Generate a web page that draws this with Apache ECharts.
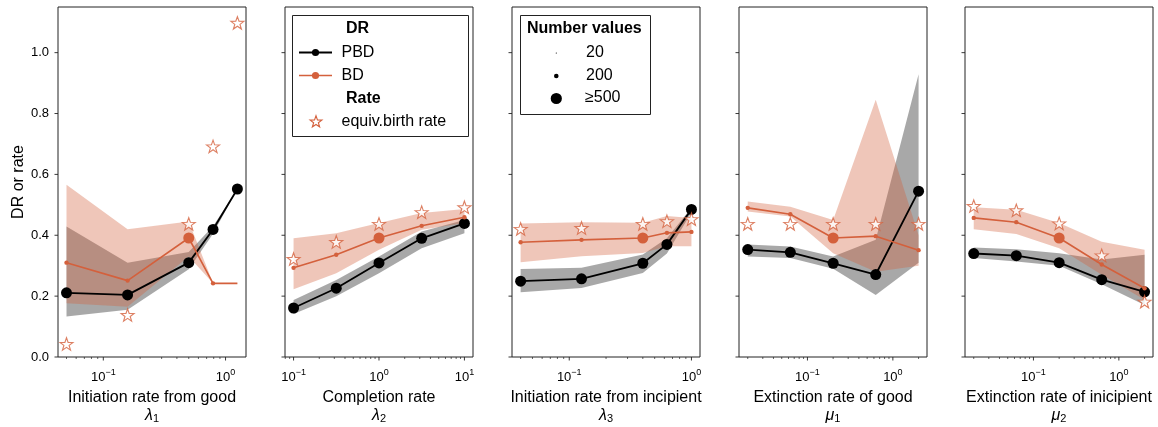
<!DOCTYPE html>
<html>
<head>
<meta charset="utf-8">
<script src="https://cdn.jsdelivr.net/npm/echarts@6/dist/echarts.min.js"></script>
<style>
  html, body { margin: 0; padding: 0; background: #fff; }
  #chart { width: 1158px; height: 427px; }
</style>
</head>
<body>
<div id="chart"></div>
<script>
// x position of the five parameter values in each panel
const xValues = [
  [0.05, 0.158, 0.5, 0.79, 1.25],
  [0.1, 0.316, 1, 3.16, 10],
  [0.04, 0.126, 0.4, 0.63, 1],
  [0.02, 0.063, 0.2, 0.63, 2],
  [0.02, 0.063, 0.2, 0.63, 2],
]
// DR of PBD and BD, plus the equivalent birth rate
const pbdValues = [
  [0.211, 0.204, 0.31, 0.419, 0.552],
  [0.161, 0.226, 0.309, 0.39, 0.439],
  [0.249, 0.257, 0.308, 0.37, 0.485],
  [0.353, 0.344, 0.308, 0.271, 0.545],
  [0.34, 0.333, 0.31, 0.254, 0.214],
]
const bdValues = [
  [0.31, 0.251, 0.391, 0.242, 0.242],
  [0.293, 0.336, 0.391, 0.431, 0.459],
  [0.377, 0.385, 0.391, 0.408, 0.411],
  [0.49, 0.469, 0.391, 0.397, 0.351],
  [0.457, 0.443, 0.391, 0.304, 0.226],
]
const rateValues = [
  [0.043, 0.138, 0.4375, 0.692, 1.098],
  [0.322, 0.378, 0.4375, 0.476, 0.492],
  [0.421, 0.424, 0.4375, 0.446, 0.453],
  [0.4375, 0.4375, 0.4375, 0.4375, 0.4375],
  [0.496, 0.482, 0.439, 0.334, 0.182],
]
// shaded ranges
const pbdLow = [
  [0.133, 0.155, 0.288, 0.405, 0.552],
  [0.141, 0.2, 0.275, 0.357, 0.407],
  [0.213, 0.227, 0.276, 0.34, 0.475],
  [0.33, 0.325, 0.29, 0.204, 0.31],
  [0.325, 0.314, 0.3, 0.239, 0.171],
]
const pbdHigh = [
  [0.429, 0.31, 0.345, 0.43, 0.552],
  [0.1875, 0.253, 0.33, 0.412, 0.45],
  [0.289, 0.293, 0.337, 0.39, 0.49],
  [0.37, 0.363, 0.33, 0.385, 0.929],
  [0.36, 0.354, 0.341, 0.32, 0.336],
]
const bdLow = [
  [0.177, 0.165, 0.33, 0.242, 0.242],
  [0.223, 0.275, 0.352, 0.418, 0.44],
  [0.311, 0.331, 0.342, 0.364, 0.364],
  [0.478, 0.462, 0.341, 0.28, 0.3],
  [0.42, 0.404, 0.357, 0.27, 0.188],
]
const bdHigh = [
  [0.566, 0.42, 0.445, 0.242, 0.242],
  [0.39, 0.407, 0.44, 0.473, 0.486],
  [0.439, 0.443, 0.441, 0.463, 0.457],
  [0.511, 0.494, 0.45, 0.845, 0.4],
  [0.492, 0.484, 0.44, 0.379, 0.352],
]
// number of values behind each point (marker size)
const pbdCounts = [
  [500, 500, 500, 500, 500],
  [500, 500, 500, 500, 500],
  [500, 500, 500, 500, 500],
  [500, 500, 500, 500, 500],
  [500, 500, 500, 500, 500],
]
const bdCounts = [
  [200, 200, 500, 200, 15],
  [200, 200, 500, 200, 200],
  [200, 200, 500, 200, 200],
  [200, 200, 500, 200, 200],
  [200, 200, 500, 200, 200],
]
const panelTitles = ['Initiation rate from good', 'Completion rate', 'Initiation rate from incipient',
  'Extinction rate of good', 'Extinction rate of inicipient']
const panelSymbols = ['λ', 'λ', 'λ', 'μ', 'μ']
const panelSubs = ['1', '2', '3', '1', '2']
const xRanges = [[0.0426, 1.47], [0.0794, 12.6], [0.034, 1.175], [0.0158, 2.51], [0.0158, 2.51]]
const yTicks = [0, 0.2, 0.4, 0.6, 0.8, 1.0]

const ORANGE = '#d4603c'
const FONT = "'Liberation Sans', Arial, sans-serif"
const lefts = [58, 285, 512, 739, 965]

const markerSize = (n) => 11 * Math.min(n, 500) / 500

function starPoints(cx, cy, R) {
  const pts = []
  for (let i = 0; i < 10; i++) {
    const r = i % 2 ? R * 0.4 : R
    const a = -Math.PI / 2 + i * Math.PI / 5
    pts.push([cx + r * Math.cos(a), cy + r * Math.sin(a)])
  }
  return pts
}
const starSymbol = 'path://M' + starPoints(0, 0, 10).map(p => p[0].toFixed(2) + ',' + p[1].toFixed(2)).join('L') + 'Z'

const grids = [], xAxes = [], yAxes = [], series = []

lefts.forEach((left, i) => {
  grids.push({ left, top: 7, width: 188, height: 350, outerBoundsMode: 'none', containLabel: false,
    show: true, borderColor: '#222', borderWidth: 1 })
  xAxes.push({
    type: 'log', logBase: 10, gridIndex: i, min: xRanges[i][0], max: xRanges[i][1],
    axisLine: { show: false }, axisTick: { show: false }, splitLine: { show: false },
    axisLabel: {
      color: '#000', fontSize: 13, fontFamily: FONT, margin: 11,
      formatter: (v) => {
        const e = Math.round(Math.log10(v))
        if (Math.abs(Math.log10(v) - e) > 1e-6) return ''
        return '{b|10}{e|' + (e < 0 ? '\u2212' + (-e) : e) + '}'
      },
      rich: {
        b: { fontSize: 13, fontFamily: FONT, color: '#000', verticalAlign: 'bottom' },
        e: { fontSize: 9, fontFamily: FONT, color: '#000', verticalAlign: 'bottom', padding: [0, 0, 7, 0] },
      },
    },
    name: '{t|' + panelTitles[i] + '}\n{l|' + panelSymbols[i] + '}{s|' + panelSubs[i] + '}',
    nameLocation: 'middle', nameGap: 30,
    nameTextStyle: {
      fontFamily: FONT, fontSize: 16, color: '#000', lineHeight: 18,
      rich: {
        t: { fontSize: 16, fontFamily: FONT, color: '#000', lineHeight: 18 },
        l: { fontSize: 16, fontFamily: FONT, color: '#000', fontStyle: 'italic', lineHeight: 18 },
        s: { fontSize: 11, fontFamily: FONT, color: '#000', verticalAlign: 'bottom', lineHeight: 13 },
      },
    },
  })
  yAxes.push({
    type: 'value', gridIndex: i, min: 0, max: 1.15, interval: 0.2,
    axisLine: { show: false }, axisTick: { show: false }, splitLine: { show: false },
    axisLabel: {
      show: i === 0, color: '#000', fontSize: 13, fontFamily: FONT, margin: 9,
      showMaxLabel: false, formatter: (v) => v.toFixed(1),
    },
    name: i === 0 ? 'DR or rate' : '', nameLocation: 'middle', nameGap: 31,
    nameTextStyle: { fontFamily: FONT, fontSize: 16, color: '#000' },
  })

  const xs = xValues[i]
  const pts = (ys) => xs.map((x, j) => [x, ys[j]])

  // shaded range: one polygon, upper edge left to right then lower edge back
  const band = (lo, hi, color) => ({
    type: 'custom', xAxisIndex: i, yAxisIndex: i, silent: true, z: 1,
    data: [xs.flatMap((x, j) => [x, lo[j], hi[j]])],
    renderItem: (params, api) => {
      const upper = [], lower = []
      for (let j = 0; j < xs.length; j++) {
        upper.push(api.coord([api.value(3 * j), api.value(3 * j + 2)]))
        lower.unshift(api.coord([api.value(3 * j), api.value(3 * j + 1)]))
      }
      return { type: 'polygon', shape: { points: upper.concat(lower) }, style: { fill: color } }
    },
  })
  series.push(band(pbdLow[i], pbdHigh[i], 'rgba(0,0,0,0.34)'))
  series.push(band(bdLow[i], bdHigh[i], 'rgba(212,96,60,0.36)'))

  series.push({
    type: 'line', xAxisIndex: i, yAxisIndex: i, data: pts(pbdValues[i]), z: 3,
    symbol: 'circle', symbolSize: (v, p) => markerSize(pbdCounts[i][p.dataIndex]),
    itemStyle: { color: '#000' }, lineStyle: { color: '#000', width: 1.8 },
  })
  series.push({
    type: 'line', xAxisIndex: i, yAxisIndex: i, data: pts(bdValues[i]), z: 4,
    symbol: 'circle', symbolSize: (v, p) => markerSize(bdCounts[i][p.dataIndex]),
    itemStyle: { color: ORANGE }, lineStyle: { color: ORANGE, width: 1.6 },
  })
  series.push({
    type: 'scatter', xAxisIndex: i, yAxisIndex: i, data: pts(rateValues[i]), z: 5,
    symbol: starSymbol, symbolSize: [13, 12.4],
    itemStyle: { color: '#fff', borderColor: ORANGE, borderWidth: 1.1 },
  })

  // log ticks in matplotlib style: majors at decades, minors at 2..9
  const ticks = []
  for (let e = -2; e <= 1; e++) {
    for (let k = 1; k <= 9; k++) {
      const v = k * Math.pow(10, e)
      if (v >= xRanges[i][0] && v <= xRanges[i][1]) ticks.push([v, 0, k === 1 ? 1 : 0])
    }
  }
  series.push({
    type: 'custom', xAxisIndex: i, yAxisIndex: i, data: ticks, silent: true, z: 6,
    renderItem: (params, api) => {
      const p = api.coord([api.value(0), 0])
      const len = api.value(2) ? 3.5 : 2
      return { type: 'line', shape: { x1: p[0], y1: p[1], x2: p[0], y2: p[1] + len },
        style: { stroke: '#222', lineWidth: api.value(2) ? 0.9 : 0.7 } }
    },
  })
  series.push({
    type: 'custom', xAxisIndex: i, yAxisIndex: i, data: yTicks.map(v => [xRanges[i][0], v]), silent: true, z: 6,
    renderItem: (params, api) => {
      const p = api.coord([api.value(0), api.value(1)])
      return { type: 'line', shape: { x1: p[0] - 3.5, y1: p[1], x2: p[0], y2: p[1] },
        style: { stroke: '#222', lineWidth: 0.9 } }
    },
  })
})

const txt = (text, x, y, bold) => ({
  type: 'text', x, y, z: 20,
  style: { text, fill: '#000', fontSize: 16, fontFamily: FONT, fontWeight: bold ? 'bold' : 'normal', verticalAlign: 'middle' },
})

const graphic = [
  // DR / Rate legend
  { type: 'rect', z: 19, shape: { x: 292.5, y: 15.5, width: 176, height: 121 }, style: { fill: '#fff', stroke: '#222', lineWidth: 1 } },
  txt('DR', 346, 28.5, true),
  { type: 'line', z: 20, shape: { x1: 299, y1: 52.5, x2: 332, y2: 52.5 }, style: { stroke: '#000', lineWidth: 1.8 } },
  { type: 'circle', z: 20, shape: { cx: 315.5, cy: 52.5, r: 3.6 }, style: { fill: '#000' } },
  txt('PBD', 341.5, 52.5),
  { type: 'line', z: 20, shape: { x1: 299, y1: 75.5, x2: 332, y2: 75.5 }, style: { stroke: ORANGE, lineWidth: 1.6 } },
  { type: 'circle', z: 20, shape: { cx: 315.5, cy: 75.5, r: 3.6 }, style: { fill: ORANGE } },
  txt('BD', 341.5, 75.5),
  txt('Rate', 346, 98.5, true),
  { type: 'polygon', z: 20, shape: { points: starPoints(316, 122, 6.2) }, style: { fill: '#fff', stroke: ORANGE, lineWidth: 1.1 } },
  txt('equiv.birth rate', 341.5, 121.5),
  // marker size legend
  { type: 'rect', z: 19, shape: { x: 520.5, y: 15.5, width: 130, height: 99 }, style: { fill: '#fff', stroke: '#222', lineWidth: 1 } },
  txt('Number values', 527, 29, true),
  { type: 'circle', z: 20, shape: { cx: 556.3, cy: 53, r: 0.6 }, style: { fill: '#000' } },
  txt('20', 586, 52.5),
  { type: 'circle', z: 20, shape: { cx: 556.3, cy: 76, r: 2.3 }, style: { fill: '#000' } },
  txt('200', 586, 75.5),
  { type: 'circle', z: 20, shape: { cx: 556.3, cy: 98.5, r: 5.6 }, style: { fill: '#000' } },
  txt('\u2265500', 585, 98),
]

const chart = echarts.init(document.getElementById('chart'), null, { renderer: 'canvas' })
chart.setOption({
  animation: false,
  backgroundColor: '#fff',
  textStyle: { fontFamily: FONT },
  grid: grids, xAxis: xAxes, yAxis: yAxes, series, graphic,
})
</script>
</body>
</html>
